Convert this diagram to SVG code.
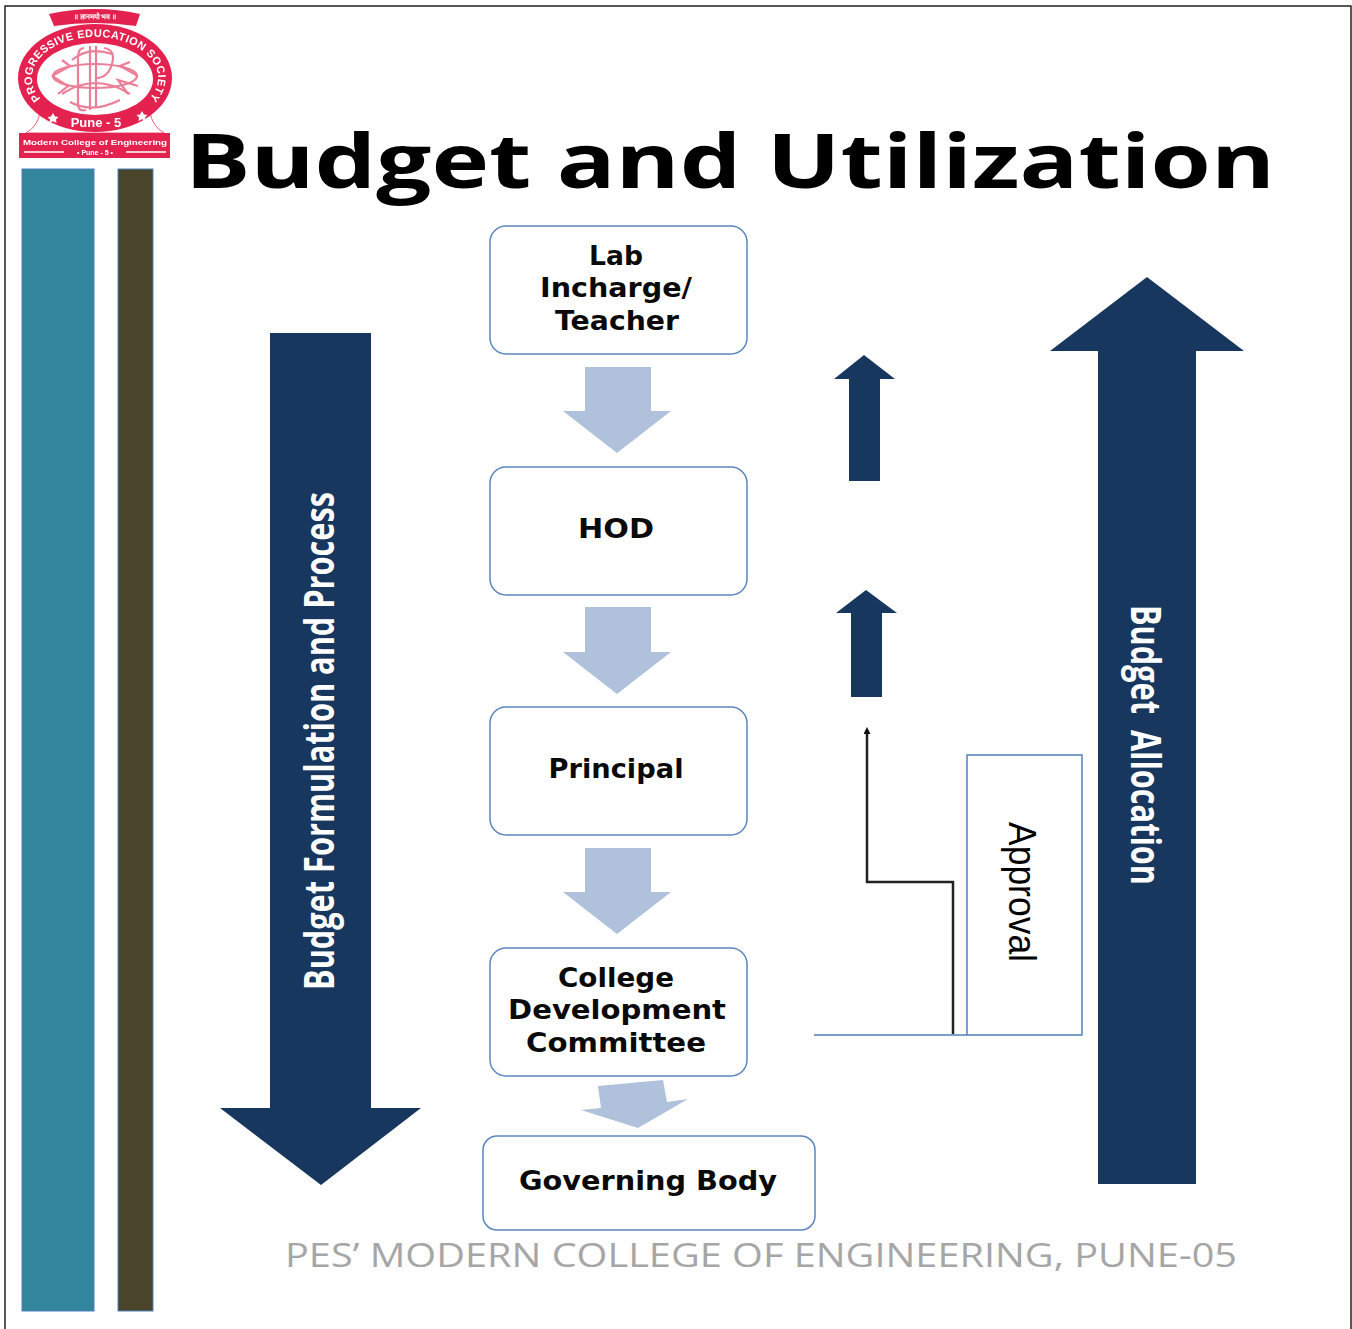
<svg xmlns="http://www.w3.org/2000/svg" xmlns:xlink="http://www.w3.org/1999/xlink" width="1352" height="1329" viewBox="0 0 1352 1329">
<style>
.box{fill:#fff;stroke:#5b86bd;stroke-width:1.5}
.lbl{font-family:"DejaVu Sans","Open Sans",sans-serif;font-weight:700;font-size:27px;fill:#0a0a0a;text-anchor:middle}
.pale{fill:#b0c1dc}
.navy{fill:#17375e}
.bar{stroke:#4f81bd;stroke-width:1}
.side{font-family:"Open Sans","Liberation Sans",sans-serif;font-weight:700;font-size:42px;fill:#fff;text-anchor:middle;white-space:pre}
.logo{fill:#fff;font-family:"Liberation Sans",sans-serif;font-weight:700}
</style>
<defs>
<path id="logoArc" d="M60 112 A63 41 0 1 1 130 112"/>
<marker id="tip" markerWidth="7" markerHeight="7" refX="4" refY="3.500" orient="auto" markerUnits="userSpaceOnUse"><path d="M0 0L7 3.500L0 7z" fill="#111"/></marker>
<filter id="soft" x="-5%" y="-5%" width="110%" height="110%"><feGaussianBlur stdDeviation="0.5"/></filter>
</defs>
<rect width="1352" height="1329" fill="#fff"/>
<path d="M5 1329V6H1351V1329" fill="none" stroke="#222" stroke-width="1.5"/>

<g id="logo" filter="url(#soft)">
<path d="M49 14Q95 4 140 14L136 26Q95 20 54 26z" fill="#e3224f"/>
<text class="logo" x="95" y="19" font-size="7" text-anchor="middle" font-family="'Noto Sans',sans-serif">॥ ज्ञानमयो भव ॥</text>
<path d="M40 112Q38 126 26 133H164Q152 126 150 112" fill="#fff" stroke="#e8597a" stroke-width="1"/>
<ellipse cx="95" cy="78" rx="77" ry="54" fill="#e3224f"/>
<ellipse cx="95" cy="79" rx="58" ry="36" fill="#fff"/>
<text class="logo" font-size="11" letter-spacing="0.4"><textPath xlink:href="#logoArc" startOffset="50%" text-anchor="middle">PROGRESSIVE EDUCATION SOCIETY</textPath></text>
<g fill="none" stroke="#ec7f98" stroke-width="2.2">
<ellipse cx="95" cy="76" rx="42" ry="12"/>
<path d="M52 76L70 66L62 60M52 76L68 86L58 94M138 76L120 66L130 62M138 86L118 80L128 94"/>
<path d="M84 48Q78 48 78 58V104Q78 112 86 110M90 46V110M96 46V108M104 48Q116 50 112 64Q108 78 96 78M62 94Q95 72 130 94"/>
<path d="M72 60Q88 46 112 54M70 102Q92 114 120 100"/>
</g>
<text class="logo" x="96" y="127" font-size="13" text-anchor="middle">Pune - 5</text>
<path d="M53 113l2 3.500 3.500 .5-2.500 2.500 .5 3.500-3.500-1.700-3.500 1.700 .5-3.500-2.500-2.500 3.500-.5zM142 111l2 3.500 3.500 .5-2.500 2.500 .5 3.500-3.500-1.700-3.500 1.700 .5-3.500-2.500-2.500 3.500-.5z" fill="#fff"/>
<rect x="19" y="133" width="151" height="25" fill="#e3224f"/>
<text class="logo" x="95" y="145" font-size="8" text-anchor="middle" textLength="144" lengthAdjust="spacingAndGlyphs">Modern College of Engineering</text>
<path d="M24 152H64M126 152H166" stroke="#fff" stroke-width="1.5"/>
<text class="logo" x="95" y="155" font-size="7" text-anchor="middle">• Pune - 5 •</text>
</g>

<rect id="bar-teal" class="bar" x="22" y="169" width="72" height="1142" fill="#31859c"/>
<rect id="bar-olive" class="bar" x="118" y="169" width="35" height="1142" fill="#4a452a"/>

<text id="title" x="185" y="188" font-family="'Open Sans','DejaVu Sans',sans-serif" font-weight="700" font-size="76" fill="#000" textLength="1090" lengthAdjust="spacingAndGlyphs">Budget and Utilization</text>

<g id="formulation-arrow">
<path class="navy" d="M270 333H371V1108H421L321 1185L220 1108H270z"/>
<text class="side" transform="translate(334 741) rotate(-90)" textLength="498" lengthAdjust="spacingAndGlyphs">Budget Formulation and Process</text>
</g>
<g id="allocation-arrow">
<path class="navy" d="M1098 1184H1196V351H1244L1147 277L1050 351H1098z"/>
<text class="side" transform="translate(1131 745) rotate(90)" textLength="280" lengthAdjust="spacingAndGlyphs" xml:space="preserve">Budget  Allocation</text>
</g>

<g id="up-arrow-1"><path class="navy" d="M849 481H880V379H895L864 355L834 379H849z"/></g>
<g id="up-arrow-2"><path class="navy" d="M851 697H882V613H897L866 590L836 613H851z"/></g>

<g id="flow-arrows">
<path class="pale" d="M585 367H651V411H671L617 453L563 411H585z"/>
<path class="pale" d="M585 607H651V652H671L617 694L563 652H585z"/>
<path class="pale" d="M585 848H651V892H671L617 934L563 892H585z"/>
<path class="pale" d="M598 1086L663 1080L667 1102L688 1099L638 1128L581 1110L601 1108z"/>
</g>

<g id="lab"><rect class="box" x="490" y="226" width="257" height="128" rx="16"/>
<text class="lbl" x="616" y="265" textLength="54" lengthAdjust="spacingAndGlyphs">Lab</text>
<text class="lbl" x="616" y="297" textLength="152" lengthAdjust="spacingAndGlyphs">Incharge/</text>
<text class="lbl" x="617" y="330" textLength="124" lengthAdjust="spacingAndGlyphs">Teacher</text></g>
<g id="hod"><rect class="box" x="490" y="467" width="257" height="128" rx="16"/>
<text class="lbl" x="616" y="538" textLength="76" lengthAdjust="spacingAndGlyphs">HOD</text></g>
<g id="principal"><rect class="box" x="490" y="707" width="257" height="128" rx="16"/>
<text class="lbl" x="616" y="778" textLength="135" lengthAdjust="spacingAndGlyphs">Principal</text></g>
<g id="cdc"><rect class="box" x="490" y="948" width="257" height="128" rx="16"/>
<text class="lbl" x="616" y="987" textLength="116" lengthAdjust="spacingAndGlyphs">College</text>
<text class="lbl" x="617" y="1019" textLength="218" lengthAdjust="spacingAndGlyphs">Development</text>
<text class="lbl" x="616" y="1052" textLength="180" lengthAdjust="spacingAndGlyphs">Committee</text></g>
<g id="governing"><rect class="box" x="483" y="1136" width="332" height="94" rx="14"/>
<text class="lbl" x="648" y="1190" textLength="258" lengthAdjust="spacingAndGlyphs">Governing Body</text></g>

<g id="connectors" fill="none">
<path d="M953 1034V882H867V730" stroke="#222" stroke-width="2.500" marker-end="url(#tip)"/>
<path d="M814 1035H967" stroke="#4f81bd" stroke-width="1.500"/>
</g>
<g id="approval"><rect x="967" y="755" width="115" height="280" fill="none" stroke="#4f81bd" stroke-width="1.500"/>
<text transform="translate(1009 892) rotate(90)" font-family="'Liberation Sans',sans-serif" font-size="39" fill="#000" text-anchor="middle" textLength="140" lengthAdjust="spacingAndGlyphs">Approval</text></g>

<text id="footer" x="285" y="1267" font-family="'Open Sans','Liberation Sans',sans-serif" font-size="32" fill="#a6a6a6" textLength="952" lengthAdjust="spacingAndGlyphs">PES’ MODERN COLLEGE OF ENGINEERING, PUNE-05</text>
</svg>
